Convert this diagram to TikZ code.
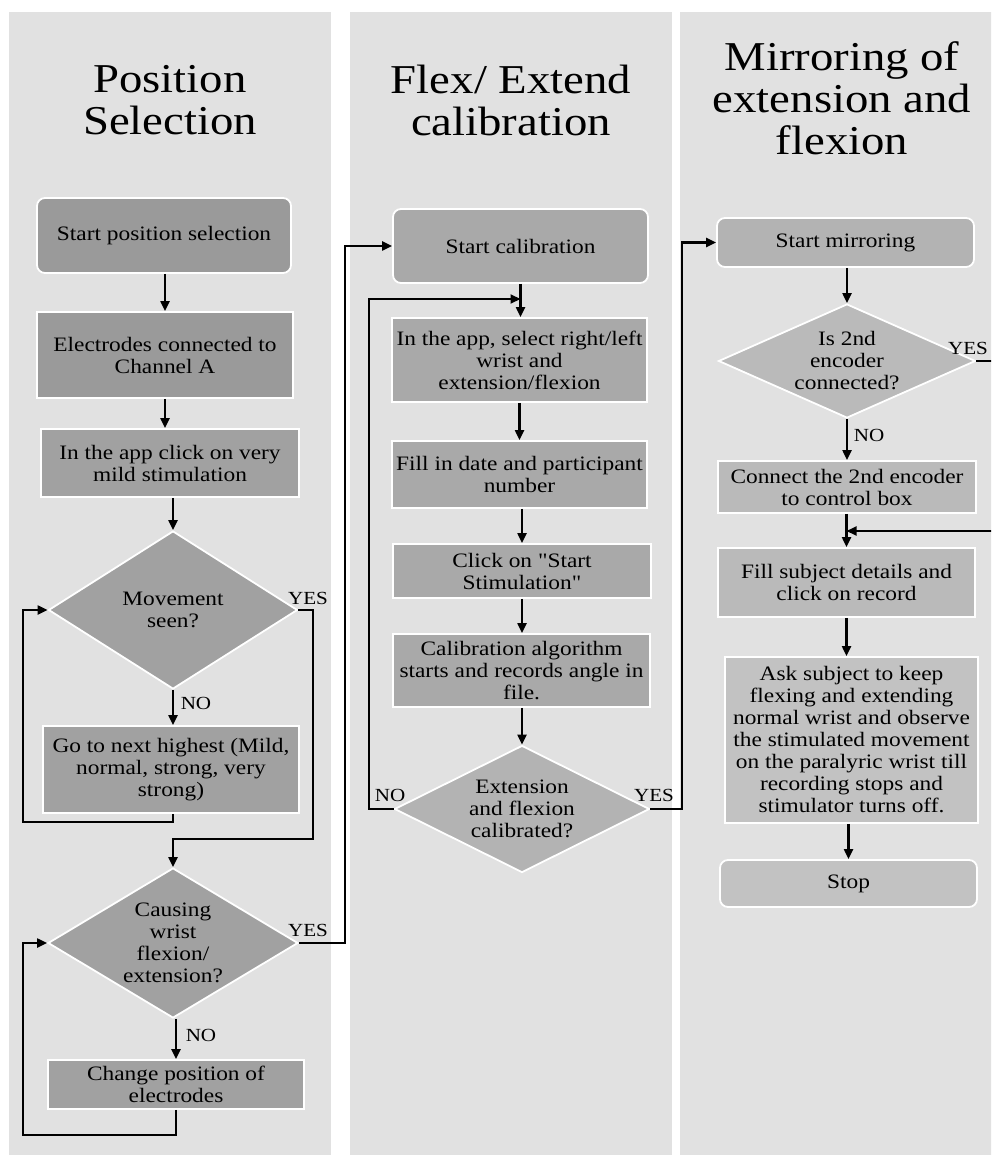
\documentclass[tikz,border=0pt]{standalone}
\usepackage{fontspec}
\setmainfont[FakeStretch=1.14,Ligatures=TeXOff]{Liberation Serif}
\usetikzlibrary{arrows.meta,shapes.geometric}
\definecolor{panel}{HTML}{E1E1E1}
\definecolor{fA}{HTML}{9A9A9A}
\definecolor{fB}{HTML}{A1A1A1}
\definecolor{fC}{HTML}{A9A9A9}
\definecolor{fD}{HTML}{B3B3B3}
\definecolor{fE}{HTML}{BABABA}
\definecolor{fF}{HTML}{C2C2C2}
\begin{document}
\begin{tikzpicture}[x=1pt,y=-1pt,
  procbox/.style={rectangle, draw=white, line width=1.8pt, align=center, inner sep=0pt, font=\fontsize{20.5}{22}\selectfont},
  startbox/.style={procbox, rounded corners=8pt},
  dia/.style={diamond, draw=white, line width=1.8pt, inner sep=0pt},
  dtext/.style={align=center, inner sep=0pt, font=\fontsize{20.5}{22}\selectfont},
  titletext/.style={align=center, inner sep=0pt, font=\fontsize{41}{42}\selectfont},
  lbl/.style={inner sep=0pt, font=\fontsize{18.5}{20}\selectfont},
  conn/.style={line width=2.1pt, draw=black},
  arr/.style={conn, -{Triangle[length=10pt,width=9pt]}}]
\useasboundingbox (0,0) rectangle (991,1155);
\clip (0,0) rectangle (991,1155);
\fill[white] (0,0) rectangle (991,1155);
\fill[panel] (9,12) rectangle (331,1155);
\fill[panel] (350,12) rectangle (672,1155);
\fill[panel] (680,12) rectangle (1000,1155);
% titles
\node[titletext] (t1) at (170,100) {Position\\Selection};
\node[titletext] (t2) at (511,100) {Flex/ Extend\\calibration};
\node[titletext] (t3) at (842,98) {Mirroring of\\extension and\\flexion};
% column 1
\node[startbox, fill=fA, minimum width=254, minimum height=75] (n1) at (164,235.5) {Start position selection};
\node[procbox, fill=fA, minimum width=256, minimum height=86] (n2) at (165,355) {Electrodes connected to\\Channel A};
\node[procbox, fill=fB, minimum width=258, minimum height=68] (n3) at (170,463) {In the app click on very\\mild stimulation};
\node[dia, fill=fB, minimum width=249, minimum height=158] (d1) at (173,610) {};
\node[dtext] (d1t) at (d1.center) {Movement\\seen?};
\node[procbox, fill=fB, minimum width=256, minimum height=87] (n4) at (171,769.5) {Go to next highest (Mild,\\normal, strong, very\\strong)};
\node[dia, fill=fB, minimum width=250, minimum height=150] (d2) at (173,943) {};
\node[dtext] (d2t) at (d2.center) {Causing\\wrist\\flexion/\\extension?};
\node[procbox, fill=fB, minimum width=256, minimum height=49] (n5) at (176,1084.5) {Change position of\\electrodes};
\coordinate (l1) at (23,822);
\coordinate (y1) at (313,839);
\coordinate (l2) at (23,1135);
\coordinate (c1) at (345,246);
% column 2
\node[startbox, fill=fC, minimum width=255, minimum height=74] (s2) at (520.5,246) {Start calibration};
\node[procbox, fill=fC, minimum width=255, minimum height=84] (m1) at (519.5,360) {In the app, select right/left\\wrist and\\extension/flexion};
\node[procbox, fill=fC, minimum width=255, minimum height=67] (m2) at (519.5,474.5) {Fill in date and participant\\number};
\node[procbox, fill=fC, minimum width=258, minimum height=54] (m3) at (522,571) {Click on "Start\\Stimulation"};
\node[procbox, fill=fC, minimum width=257, minimum height=73] (m4) at (521.5,670.5) {Calibration algorithm\\starts and records angle in\\file.};
\node[dia, fill=fD, minimum width=255, minimum height=127] (d3) at (522,809) {};
\node[dtext] (d3t) at (d3.center) {Extension\\and flexion\\calibrated?};
\coordinate (c2) at (369,299);
\coordinate (c3) at (682,242.5);
% column 3
\node[startbox, fill=fD, minimum width=257, minimum height=49] (s3) at (845.5,242.5) {Start mirroring};
\node[dia, fill=fE, minimum width=257, minimum height=114] (d4) at (847,361) {};
\node[dtext] (d4t) at (d4.center) {Is 2nd\\encoder\\connected?};
\node[procbox, fill=fE, minimum width=258, minimum height=52] (r1) at (847,487) {Connect the 2nd encoder\\to control box};
\node[procbox, fill=fE, minimum width=257, minimum height=69] (r2) at (846.5,582.5) {Fill subject details and\\click on record};
\node[procbox, fill=fF, minimum width=253, minimum height=166] (r3) at (851.5,740) {Ask subject to keep\\flexing and extending\\normal wrist and observe\\the stimulated movement\\on the paralyric wrist till\\recording stops and\\stimulator turns off.};
\node[startbox, fill=fF, minimum width=257, minimum height=47] (r4) at (848.5,883.5) {Stop};
\coordinate (c4) at (1000,531);
% labels
\node[lbl] (yes1) at (308,598) {YES};
\node[lbl] (no1) at (196,703) {NO};
\node[lbl] (yes2) at (308,930) {YES};
\node[lbl] (no2) at (201,1035) {NO};
\node[lbl] (no3) at (390,795) {NO};
\node[lbl] (yes3) at (654,795) {YES};
\node[lbl] (yes4) at (968,348) {YES};
\node[lbl] (no4) at (869,435) {NO};
% connectors column 1
\draw[arr] (n1.south -| n2.north) -- (n2.north);
\draw[arr] (n2.south) -- (n2.south |- n3.north);
\draw[arr] (d1.north |- n3.south) -- (d1.north);
\draw[arr] (d1.south) -- (d1.south |- n4.north);
\draw[arr] (d1.south |- n4.south) |- (l1) |- (d1.west);
\draw[arr] (d1.east) -| (y1) -| (d2.north);
\draw[arr] (n5.north |- d2.south) -- (n5.north);
\draw[arr] (n5.south) |- (l2) |- (d2.west);
\draw[arr] (d2.east) -| (c1) -- (s2.west);
% connectors column 2
\draw[arr] (s2.south) -- (s2.south |- m1.north);
\draw[arr] (m1.south) -- (m1.south |- m2.north);
\draw[arr] (m3.north |- m2.south) -- (m3.north);
\draw[arr] (m3.south) -- (m3.south |- m4.north);
\draw[arr] (d3.north |- m4.south) -- (d3.north);
\draw[arr] (d3.west) -| (c2) -- (s2.south |- c2);
\draw[arr] (d3.east) -| (c3) -- (s3.west);
% connectors column 3
\draw[arr] (s3.south -| d4.north) -- (d4.north);
\draw[arr] (d4.south) -- (d4.south |- r1.north);
\draw[arr] (r1.south -| r2.north) -- (r2.north);
\draw[arr] (d4.east) -| (c4) -- (r2.north |- c4);
\draw[arr] (r2.south) -- (r2.south |- r3.north);
\draw[arr] (r4.north |- r3.south) -- (r4.north);
\end{tikzpicture}
\end{document}
